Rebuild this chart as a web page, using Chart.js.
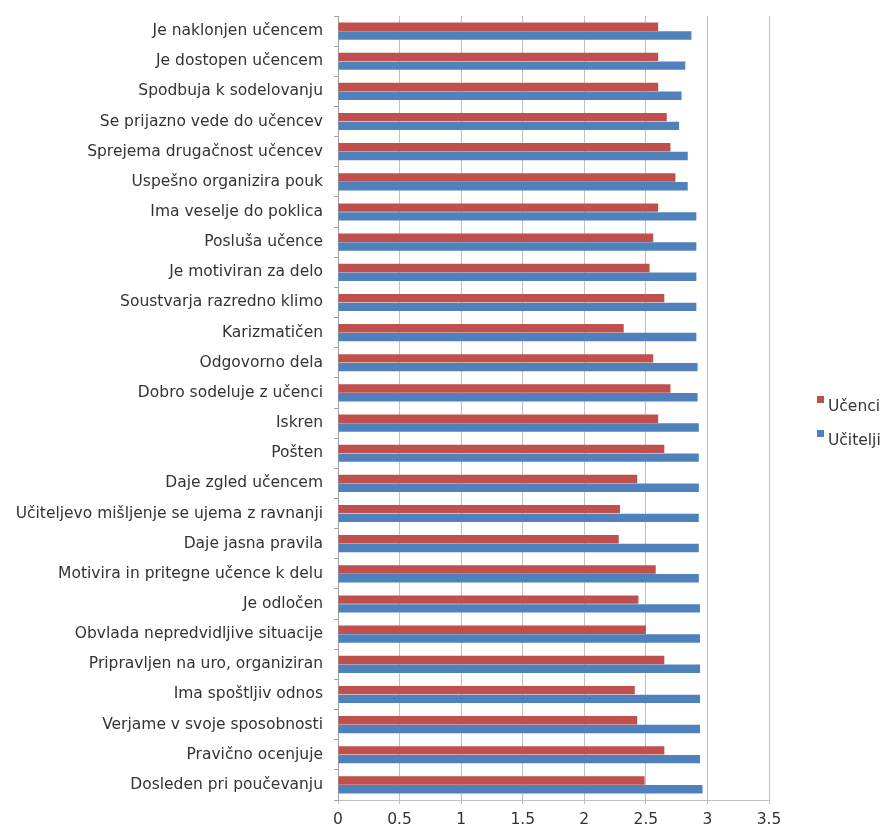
<!DOCTYPE html>
<html>
<head>
<meta charset="utf-8">
<script src="https://cdn.jsdelivr.net/npm/chart.js@4"></script>
<style>
  html, body { margin: 0; padding: 0; background: #fff; }
  #wrap { position: relative; width: 885px; height: 831px; }
  #legend {
    position: absolute;
    left: 817px;
    top: 389px;
    font-family: 'DejaVu Sans';
    font-size: 15.5px;
    line-height: 34px;
    color: #333;
    white-space: nowrap;
  }
  #legend .box {
    display: inline-block;
    width: 7px;
    height: 7px;
    margin-right: 4px;
    vertical-align: 8px;
  }
</style>
</head>
<body>
<div id="wrap">
  <canvas id="myChart" width="885" height="831"></canvas>
  <div id="legend"></div>
</div>
<script>
'use strict';

// trditve o učitelju (od zgoraj navzdol)
let labelArray = [
    'Je naklonjen učencem',
    'Je dostopen učencem',
    'Spodbuja k sodelovanju',
    'Se prijazno vede do učencev',
    'Sprejema drugačnost učencev',
    'Uspešno organizira pouk',
    'Ima veselje do poklica',
    'Posluša učence',
    'Je motiviran za delo',
    'Soustvarja razredno klimo',
    'Karizmatičen',
    'Odgovorno dela',
    'Dobro sodeluje z učenci',
    'Iskren',
    'Pošten',
    'Daje zgled učencem',
    'Učiteljevo mišljenje se ujema z ravnanji',
    'Daje jasna pravila',
    'Motivira in pritegne učence k delu',
    'Je odločen',
    'Obvlada nepredvidljive situacije',
    'Pripravljen na uro, organiziran',
    'Ima spoštljiv odnos',
    'Verjame v svoje sposobnosti',
    'Pravično ocenjuje',
    'Dosleden pri poučevanju'
];

// povprečne ocene
let ucenciArray = [2.60, 2.60, 2.60, 2.67, 2.70, 2.74, 2.60, 2.56, 2.53, 2.65, 2.32, 2.56, 2.70,
    2.60, 2.65, 2.43, 2.29, 2.28, 2.58, 2.44, 2.50, 2.65, 2.41, 2.43, 2.65, 2.49];
let uciteljiArray = [2.87, 2.82, 2.79, 2.77, 2.84, 2.84, 2.91, 2.91, 2.91, 2.91, 2.91, 2.92, 2.92,
    2.93, 2.93, 2.93, 2.93, 2.93, 2.93, 2.94, 2.94, 2.94, 2.94, 2.94, 2.94, 2.96];

let seriesNames = ['Učenci', 'Učitelji'];
let seriesColors = ['#C0504D', '#4F81BD'];

let xMin = 0;
let xMax = 3.5;
let xStep = 0.5;

let labelFont = { family: 'DejaVu Sans', size: 15.5 };

const data = {
    labels: labelArray,
    datasets: [{
        label: seriesNames[0],
        data: ucenciArray,
        backgroundColor: seriesColors[0],
        borderWidth: 0,
        barPercentage: 0.96,
        categoryPercentage: 0.58
    },
    {
        label: seriesNames[1],
        data: uciteljiArray,
        backgroundColor: seriesColors[1],
        borderWidth: 0,
        barPercentage: 0.96,
        categoryPercentage: 0.58
    }]
};

const config = {
    type: 'bar',
    data: data,
    options: {
        indexAxis: 'y',
        responsive: false,
        animation: false,
        layout: {
            padding: { top: 16, right: 116, bottom: 0, left: 4 }
        },
        plugins: {
            legend: { display: false },
            tooltip: { enabled: false }
        },
        scales: {
            x: {
                min: xMin,
                max: xMax,
                ticks: {
                    stepSize: xStep,
                    color: '#333',
                    font: labelFont,
                    padding: 7,
                    callback: function (value) {
                        return String(Math.round(value * 10) / 10);
                    }
                },
                grid: {
                    color: '#c0c0c0',
                    drawTicks: true,
                    tickLength: 4
                },
                border: { color: '#c0c0c0' },
                afterFit: function (scale) {
                    scale.height = 31;
                }
            },
            y: {
                ticks: {
                    color: '#333',
                    font: labelFont,
                    padding: 11
                },
                grid: {
                    offset: true,
                    drawOnChartArea: false,
                    drawTicks: true,
                    tickLength: 4,
                    color: '#a0a0a0'
                },
                border: { color: '#a0a0a0' },
                afterFit: function (scale) {
                    scale.width = 334;
                    // ne dodajaj roba za prvo/zadnjo oznako
                    scale.paddingTop = 0;
                    scale.paddingBottom = 0;
                }
            }
        }
    }
};

var myChart = new Chart(document.getElementById('myChart'), config);

// legenda ob desnem robu
let legendDiv = document.getElementById('legend');
for (let i = 0; i < seriesNames.length; i++) {
    let row = document.createElement('div');
    let box = document.createElement('span');
    box.className = 'box';
    box.style.background = seriesColors[i];
    row.appendChild(box);
    row.appendChild(document.createTextNode(seriesNames[i]));
    legendDiv.appendChild(row);
}
</script>
</body>
</html>
